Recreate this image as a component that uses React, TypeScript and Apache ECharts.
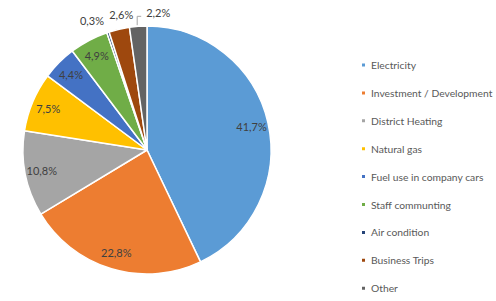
import React, { useEffect, useRef } from "react";
import * as echarts from "echarts";

const categories = [
  "Electricity",
  "Investment / Development",
  "District Heating",
  "Natural gas",
  "Fuel use in company cars",
  "Staff communting",
  "Air condition",
  "Business Trips",
  "Other",
];
const shares = [41.7, 22.8, 10.8, 7.5, 4.4, 4.9, 0.3, 2.6, 2.2];
const colors = [
  "#5B9BD5",
  "#ED7D31",
  "#A5A5A5",
  "#FFC000",
  "#4472C4",
  "#70AD47",
  "#264478",
  "#9E480E",
  "#636363",
];

// label placement tweaks for the small outside slices (offsets from slice edge)
const outsideLabel: Record<string, { dx: number; dy: number; align: string; line: boolean }> = {
  "Air condition": { dx: -16, dy: -12, align: "center", line: false },
  "Business Trips": { dx: 2, dy: -15, align: "center", line: false },
  Other: { dx: 8, dy: -14, align: "left", line: true },
};

const FONT = "Lato";
const fmt = (v: number) => v.toFixed(1).replace(".", ",") + "%";

export default function App() {
  const ref = useRef<HTMLDivElement>(null);
  useEffect(() => {
    if (!ref.current) return;
    const chart = echarts.init(ref.current, undefined, { renderer: "svg" });
    const center = [147, 150];
    const R = 124;
    chart.setOption({
      animation: false,
      backgroundColor: "#ffffff",
      legend: {
        orient: "vertical",
        left: 360,
        top: 58,
        padding: 0,
        icon: "rect",
        itemWidth: 5,
        itemHeight: 5,
        itemGap: 13.9,
        selectedMode: false,
        data: categories,
        textStyle: { fontSize: 10.3, color: "#595959", lineHeight: 14, fontFamily: FONT },
      },
      series: [
        {
          type: "pie",
          center,
          radius: [0, R],
          startAngle: 90,
          clockwise: true,
          silent: true,
          avoidLabelOverlap: false,
          label: { show: false },
          labelLine: { show: false },
          itemStyle: { borderColor: "#ffffff", borderWidth: 1.5 },
          emphasis: { disabled: true },
          data: categories.map((n, i) => ({
            name: n,
            value: shares[i],
            itemStyle: { color: colors[i] },
          })),
        },
        {
          type: "pie",
          center,
          radius: [R * 0.68, R],
          startAngle: 90,
          clockwise: true,
          silent: true,
          avoidLabelOverlap: false,
          emphasis: { disabled: true },
          itemStyle: { color: "rgba(0,0,0,0)", borderWidth: 0 },
          label: {
            show: true,
            position: "inside",
            fontSize: 11,
            color: "#404040",
            fontFamily: FONT,
            formatter: (p: any) => fmt(p.value),
          },
          labelLine: { show: false },
          labelLayout: (p: any) => {
            const o = outsideLabel[categories[p.dataIndex]];
            if (!o || !p.labelLinePoints) return {};
            const a = p.labelLinePoints[0];
            return {
              x: a[0] + o.dx,
              y: a[1] + o.dy,
              align: o.align,
              verticalAlign: "middle",
              labelLinePoints: o.line
                ? [
                    [a[0] - 1, a[1] - 1],
                    [a[0] - 1, a[1] - 10],
                    [a[0] + 3, a[1] - 10],
                  ]
                : [a, a, a],
            };
          },
          data: categories.map((n, i) => {
            const o = outsideLabel[n];
            return {
              name: n,
              value: shares[i],
              ...(o
                ? {
                    label: { position: "outside" },
                    labelLine: {
                      show: true,
                      length: 6,
                      length2: 4,
                      lineStyle: { color: "#A6A6A6", width: 1, opacity: o.line ? 1 : 0 },
                    },
                  }
                : {}),
            };
          }),
        },
      ],
    });
    return () => chart.dispose();
  }, []);
  return (
    <div
      ref={ref}
      style={{ position: "absolute", left: 0, top: 0, width: 496, height: 301 }}
    />
  );
}
